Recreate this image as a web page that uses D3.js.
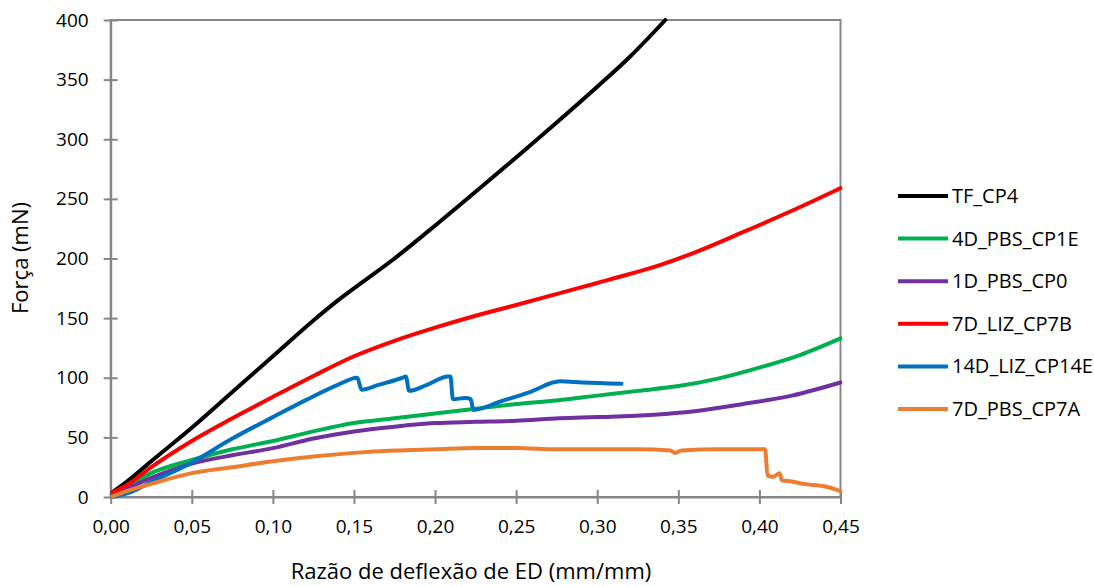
<!DOCTYPE html>
<html><head><meta charset="utf-8">
<script src="https://cdn.jsdelivr.net/npm/d3@7"></script>
<style>
body{margin:0;background:#fff;}
text{font-family:"Open Sans",sans-serif;fill:#000;}
</style></head><body>
<svg id="chart" width="1094" height="587"></svg>
<script>
const seriesNames = ["TF_CP4","4D_PBS_CP1E","1D_PBS_CP0","7D_LIZ_CP7B","14D_LIZ_CP14E","7D_PBS_CP7A"];
const seriesColors = ["#000000","#00B050","#7030A0","#FF0000","#0070C0","#ED7D31"];
const xTicks = [0,0.05,0.10,0.15,0.20,0.25,0.30,0.35,0.40,0.45];
const yTicks = [0,50,100,150,200,250,300,350,400];

const tfCP4 = [[0,3],[0.01,13],[0.025,30],[0.05,58],[0.075,88],[0.10,118],[0.125,148],[0.1393,164],[0.15,175],[0.175,200],[0.1968,224],[0.225,256],[0.2554,291],[0.275,314],[0.30,344],[0.32,369],[0.342,400]];
const pbsCP1E = [[0,2],[0.01,9],[0.025,20],[0.05,31],[0.075,40],[0.10,47],[0.125,55],[0.15,62],[0.175,66],[0.20,70],[0.225,74],[0.25,78],[0.275,81],[0.30,85],[0.325,89],[0.35,93],[0.375,99.5],[0.40,108.5],[0.425,119],[0.45,133]];
const pbsCP0 = [[0,1],[0.01,7],[0.025,16],[0.05,28],[0.075,35],[0.10,41],[0.125,49],[0.15,55],[0.175,59],[0.20,62],[0.225,63],[0.25,64],[0.277,66],[0.30,67],[0.335,69],[0.36,72],[0.39,78],[0.42,85],[0.45,96]];
const lizCP7B = [[0,3],[0.01,10],[0.025,25],[0.05,47],[0.075,66],[0.10,84],[0.125,101.5],[0.15,118],[0.175,131],[0.20,142],[0.225,152],[0.25,161],[0.277,171],[0.30,179.5],[0.32,187],[0.3386,194.5],[0.36,205],[0.388,221],[0.42,240],[0.45,259]];
const lizCP14E = [[0,0],[0.01,3],[0.02,9],[0.03,16],[0.04,22],[0.05,29],[0.075,49],[0.10,67],[0.12,81],[0.14,94],[0.152,100],[0.1547,90],[0.165,94],[0.18,100],[0.182,101],[0.184,89],[0.195,94],[0.208,101],[0.2095,101],[0.211,82],[0.2185,83],[0.222,82],[0.2236,73],[0.24,80],[0.2585,88],[0.277,97],[0.291,96],[0.315,95]];
const pbsCP7A = [[0,0],[0.01,5],[0.025,11],[0.05,20],[0.075,25],[0.10,30],[0.125,34],[0.15,37],[0.175,39],[0.20,40],[0.225,41],[0.25,41],[0.275,40],[0.30,40],[0.325,40],[0.345,39],[0.348,37],[0.352,39],[0.375,40],[0.40,40],[0.4035,40],[0.405,18],[0.4085,17],[0.4125,20],[0.4138,14],[0.42,13],[0.427,11],[0.44,9],[0.45,5]];
const seriesData = [tfCP4,pbsCP1E,pbsCP0,lizCP7B,lizCP14E,pbsCP7A];

const svg = d3.select("#chart");
const L=110.7, R=840.5, T=20, B=497;
const x = d3.scaleLinear().domain([0,0.45]).range([L,R]);
const y = d3.scaleLinear().domain([0,400]).range([B,T]);
const axisColor="#868686";
const fmt = d => d3.format(".2f")(d).replace(".",",");

svg.append("defs").append("clipPath").attr("id","clip")
  .append("rect").attr("x",L).attr("y",T-2).attr("width",R-L+2).attr("height",B-T+4);

svg.append("rect").attr("x",L).attr("y",T).attr("width",R-L).attr("height",B-T)
  .attr("fill","none").attr("stroke",axisColor).attr("stroke-width",2);

const xAxis = svg.append("g").attr("transform",`translate(0,${B})`)
  .call(d3.axisBottom(x).tickValues(xTicks).tickFormat(fmt).tickSizeInner(7).tickSizeOuter(0).tickPadding(16));
xAxis.select(".domain").attr("stroke",axisColor).attr("stroke-width",2);
xAxis.selectAll(".tick line").attr("stroke",axisColor).attr("stroke-width",2).attr("y1",-7);
xAxis.selectAll("text").attr("font-size",19).attr("font-family","Open Sans");

const yAxis = svg.append("g").attr("transform",`translate(${L},0)`)
  .call(d3.axisLeft(y).tickValues(yTicks).tickFormat(d3.format("d")).tickSizeInner(7).tickSizeOuter(0).tickPadding(15));
yAxis.select(".domain").attr("stroke",axisColor).attr("stroke-width",2);
yAxis.selectAll(".tick line").attr("stroke",axisColor).attr("stroke-width",2).attr("x1",7);
yAxis.selectAll("text").attr("font-size",19).attr("font-family","Open Sans");

const line = d3.line().x(d=>x(d[0])).y(d=>y(d[1])).curve(d3.curveMonotoneX);
const g = svg.append("g").attr("clip-path","url(#clip)");
seriesData.forEach((s,i)=>{
  g.append("path").datum(s).attr("d",line).attr("fill","none")
   .attr("stroke",seriesColors[i]).attr("stroke-width",4)
   .attr("stroke-linejoin","round").attr("stroke-linecap","round");
});

svg.append("text").attr("x",471).attr("y",579).attr("text-anchor","middle")
  .attr("font-size",22).text("Razão de deflexão de ED (mm/mm)");
svg.append("text").attr("transform","translate(28,258) rotate(-90)").attr("text-anchor","middle")
  .attr("font-size",22).text("Força (mN)");

const leg = svg.append("g");
seriesNames.forEach((n,i)=>{
  const yy = 196 + i*42.6;
  leg.append("line").attr("x1",898).attr("x2",948).attr("y1",yy).attr("y2",yy)
    .attr("stroke",seriesColors[i]).attr("stroke-width",4);
  leg.append("text").attr("x",952).attr("y",yy+7).attr("font-size",20).text(n);
});
</script></body></html>
